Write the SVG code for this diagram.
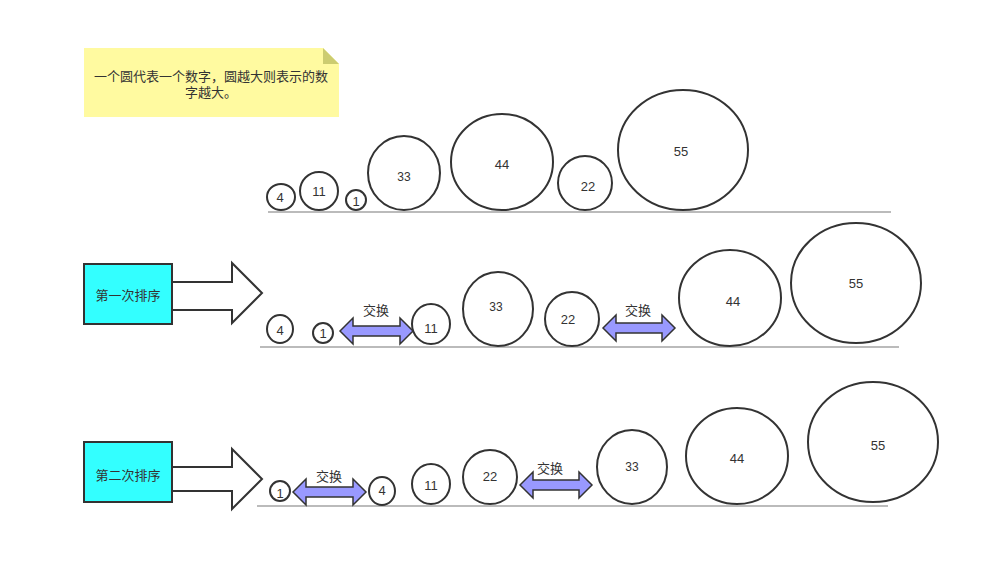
<svg xmlns="http://www.w3.org/2000/svg" width="998" height="577" viewBox="0 0 998 577">
<style>
.c{fill:#fff;stroke:#333;stroke-width:2}
.t{font-family:"Liberation Sans","Noto Sans CJK SC",sans-serif;font-size:13px;fill:#333;text-anchor:middle;dominant-baseline:central}
.g{stroke:#bbb;stroke-width:2}
.box{fill:#33ffff;stroke:#333;stroke-width:2}
.ba{fill:#fff;stroke:#333;stroke-width:2;stroke-linejoin:miter}
.da{fill:#9999ff;stroke:#333;stroke-width:1.5}
</style>
<rect width="998" height="577" fill="#fff"/>
<g id="note">
<path d="M84 48H323L339 64V117H84Z" fill="#fffaa0"/>
<path d="M323 48L339 64H323Z" fill="#cccc70"/>
<text class="t" x="211" y="76">一个圆代表一个数字，圆越大则表示的数</text>
<text class="t" x="211" y="92">字越大。</text>
</g>
<g id="connectors">
<line class="g" x1="268" y1="212" x2="891" y2="212"/>
<line class="g" x1="260" y1="347" x2="899" y2="347"/>
<line class="g" x1="257" y1="506" x2="888" y2="506"/>
<path class="ba" d="M172 282H232V263L262 293L232 323V310H172"/>
<path class="ba" d="M172 467H232V449L262 479L232 509V491H172"/>
<path class="da" d="M340 331L353 318V326H400V318L413 331L400 344V336H353V344Z"/>
<path class="da" d="M603 328L616 315V323H662V315L675 328L662 341V333H616V341Z"/>
<path class="da" d="M293 492L306 479V487H353V479L366 492L353 505V497H306V505Z"/>
<path class="da" d="M520 485L533 472V480H579V472L592 485L579 498V490H533V498Z"/>
<text class="t" x="376" y="310">交换</text>
<text class="t" x="638" y="310">交换</text>
<text class="t" x="329" y="476">交换</text>
<text class="t" x="550" y="468">交换</text>
</g>
<g id="sort1"><rect class="box" x="84" y="264" width="88" height="60"/><text class="t" x="128" y="295">第一次排序</text></g>
<g id="sort2"><rect class="box" x="84" y="442" width="88" height="60"/><text class="t" x="128" y="475">第二次排序</text></g>
<g id="r1n4"><ellipse class="c" cx="281" cy="197" rx="14" ry="13"/><text class="t" x="280" y="197">4</text></g>
<g id="r1n11"><ellipse class="c" cx="319" cy="191" rx="19" ry="19"/><text class="t" x="319" y="191">11</text></g>
<g id="r1n1"><ellipse class="c" cx="356" cy="200" rx="10" ry="10"/><text class="t" x="356" y="201">1</text></g>
<g id="r1n33"><ellipse class="c" cx="404" cy="173" rx="36" ry="37"/><text class="t" x="404" y="177" style="font-size:12px">33</text></g>
<g id="r1n44"><ellipse class="c" cx="502" cy="162" rx="51" ry="48"/><text class="t" x="502" y="164">44</text></g>
<g id="r1n22"><ellipse class="c" cx="585" cy="183" rx="27" ry="27"/><text class="t" x="588" y="186">22</text></g>
<g id="r1n55"><ellipse class="c" cx="683" cy="150" rx="65" ry="60"/><text class="t" x="681" y="151">55</text></g>
<g id="r2n4"><ellipse class="c" cx="280" cy="329" rx="13" ry="14"/><text class="t" x="280" y="330">4</text></g>
<g id="r2n1"><ellipse class="c" cx="323" cy="333" rx="10" ry="10"/><text class="t" x="323" y="333">1</text></g>
<g id="r2n11"><ellipse class="c" cx="431" cy="324" rx="19" ry="20"/><text class="t" x="431" y="328">11</text></g>
<g id="r2n33"><ellipse class="c" cx="498" cy="309" rx="35" ry="37"/><text class="t" x="496" y="307" style="font-size:12px">33</text></g>
<g id="r2n22"><ellipse class="c" cx="572" cy="319" rx="27" ry="27"/><text class="t" x="568" y="319">22</text></g>
<g id="r2n44"><ellipse class="c" cx="730" cy="298" rx="51" ry="48"/><text class="t" x="733" y="301">44</text></g>
<g id="r2n55"><ellipse class="c" cx="856" cy="283" rx="65" ry="60"/><text class="t" x="856" y="283">55</text></g>
<g id="r3n1"><ellipse class="c" cx="280" cy="491" rx="10" ry="10"/><text class="t" x="280" y="493">1</text></g>
<g id="r3n4"><ellipse class="c" cx="382" cy="491" rx="13" ry="14"/><text class="t" x="382" y="490">4</text></g>
<g id="r3n11"><ellipse class="c" cx="431" cy="484" rx="19" ry="20"/><text class="t" x="431" y="485">11</text></g>
<g id="r3n22"><ellipse class="c" cx="490" cy="477" rx="27" ry="27"/><text class="t" x="490" y="476">22</text></g>
<g id="r3n33"><ellipse class="c" cx="632" cy="467" rx="35" ry="37"/><text class="t" x="632" y="467" style="font-size:12px">33</text></g>
<g id="r3n44"><ellipse class="c" cx="737" cy="456" rx="51" ry="48"/><text class="t" x="737" y="458">44</text></g>
<g id="r3n55"><ellipse class="c" cx="873" cy="442" rx="65" ry="60"/><text class="t" x="878" y="445">55</text></g>
</svg>
